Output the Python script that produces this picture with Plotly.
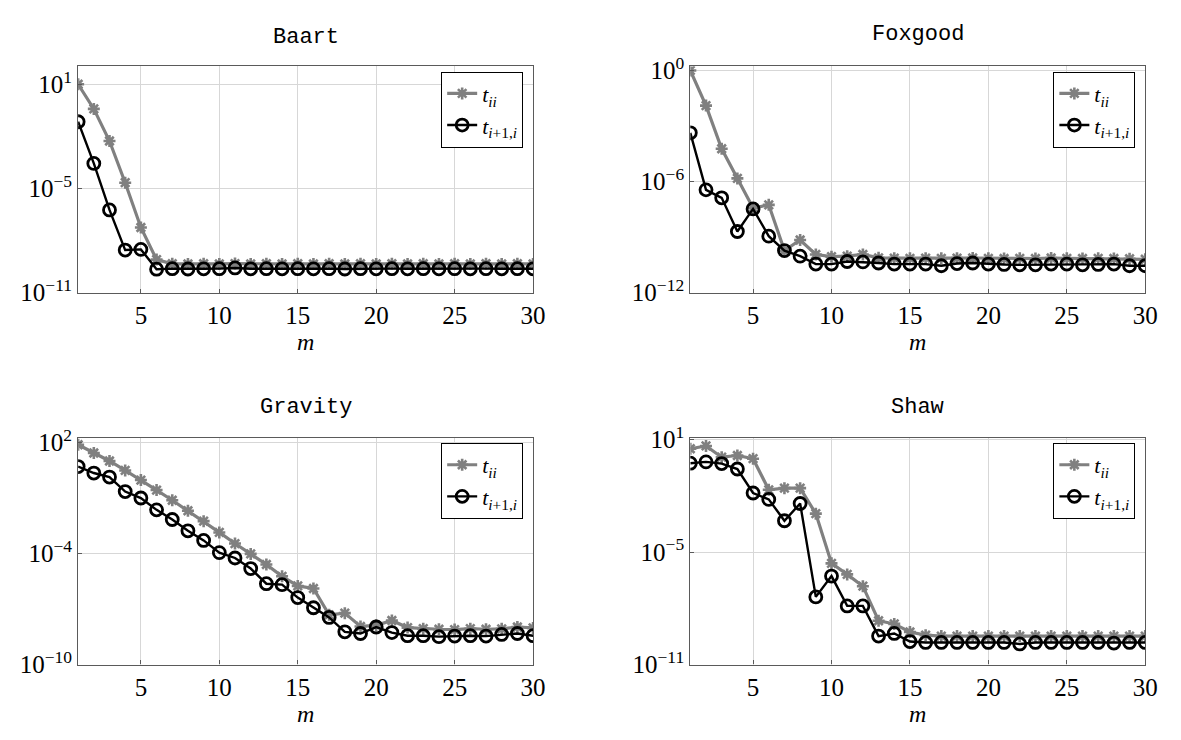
import plotly.graph_objects as go

m = list(range(1, 31))

# log10 values
baart_tii = [1.0, -0.42, -2.27, -4.67, -7.25, -9.10, -9.34, -9.35, -9.34, -9.35, -9.33, -9.35, -9.34, -9.35, -9.34,
             -9.35, -9.34, -9.35, -9.34, -9.35, -9.34, -9.35, -9.34, -9.35, -9.34, -9.35, -9.34, -9.35, -9.34, -9.35]
baart_tip = [-1.16, -3.56, -6.24, -8.55, -8.51, -9.65, -9.62, -9.64, -9.63, -9.62, -9.58, -9.63, -9.62, -9.63, -9.62,
             -9.63, -9.62, -9.64, -9.62, -9.63, -9.62, -9.63, -9.62, -9.63, -9.62, -9.63, -9.62, -9.63, -9.62, -9.63]
fox_tii = [0.0, -1.90, -4.23, -5.83, -7.43, -7.26, -9.73, -9.16, -9.94, -10.06, -10.03, -9.94, -10.12, -10.14, -10.15,
           -10.14, -10.15, -10.14, -10.13, -10.15, -10.16, -10.15, -10.16, -10.13, -10.15, -10.16, -10.15, -10.16, -10.17, -10.20]
fox_tip = [-3.37, -6.45, -6.88, -8.70, -7.48, -8.95, -9.73, -10.03, -10.46, -10.46, -10.32, -10.34, -10.40, -10.46, -10.46,
           -10.46, -10.55, -10.43, -10.40, -10.46, -10.48, -10.50, -10.50, -10.46, -10.46, -10.50, -10.48, -10.46, -10.55, -10.55]
grav_tii = [1.88, 1.43, 1.00, 0.49, -0.03, -0.57, -1.12, -1.69, -2.25, -2.86, -3.46, -4.02, -4.59, -5.23, -5.75,
            -5.89, -7.31, -7.22, -7.94, -7.88, -7.62, -8.00, -8.06, -8.09, -8.11, -8.06, -8.09, -8.07, -7.97, -8.02]
grav_tip = [0.70, 0.35, 0.13, -0.65, -1.00, -1.64, -2.16, -2.77, -3.29, -3.95, -4.24, -4.81, -5.63, -5.68, -6.38,
            -6.93, -7.45, -8.23, -8.32, -7.97, -8.27, -8.44, -8.44, -8.49, -8.46, -8.44, -8.46, -8.37, -8.32, -8.44]
shaw_tii = [0.51, 0.66, 0.06, 0.15, -0.02, -1.68, -1.59, -1.59, -2.95, -5.60, -6.19, -6.82, -8.66, -8.83, -9.26,
            -9.43, -9.48, -9.48, -9.48, -9.48, -9.48, -9.48, -9.48, -9.48, -9.48, -9.48, -9.48, -9.48, -9.48, -9.48]
shaw_tip = [-0.26, -0.19, -0.28, -0.57, -1.85, -2.19, -3.33, -2.41, -7.39, -6.28, -7.87, -7.87, -9.48, -9.34, -9.77,
            -9.82, -9.82, -9.82, -9.82, -9.82, -9.82, -9.90, -9.82, -9.82, -9.82, -9.82, -9.82, -9.85, -9.82, -9.82]

titles = ["Baart", "Foxgood", "Gravity", "Shaw"]
series = [(baart_tii, baart_tip), (fox_tii, fox_tip), (grav_tii, grav_tip), (shaw_tii, shaw_tip)]
yranges = [(-11, 2.03), (-12, 0.22), (-10, 2.26), (-11, 1.1)]
ytickexp = [[1, -5, -11], [0, -6, -12], [2, -4, -10], [1, -5, -11]]
xticks = [5, 10, 15, 20, 25, 30]

W, H = 1181, 740
# plot boxes in pixels: (left, right, top, bottom)
boxes = [(79, 539, 52.5, 288.3), (698, 1158, 52.5, 288.3),
         (79, 539, 439.5, 676), (698, 1158, 439.5, 676)]
title_y = [22, 19, 408, 408]

SERIF = "Liberation Serif"
MONO = "Liberation Mono"
GRAY = "rgb(128,128,128)"

fig = go.Figure()
layout = dict(width=W, height=H, margin=dict(l=0, r=0, t=0, b=0),
              paper_bgcolor="white", plot_bgcolor="white",
              font=dict(family=SERIF, size=22, color="black"), annotations=[])

for i in range(4):
    ax = "" if i == 0 else str(i + 1)
    tii, tip = series[i]
    leg = "legend" if i == 0 else f"legend{i + 1}"
    fig.add_trace(go.Scatter(
        x=m, y=[10 ** v for v in tii], mode="lines+markers",
        name="<i>t</i><sub><i>ii</i></sub>",
        line=dict(color=GRAY, width=3.2),
        marker=dict(symbol="asterisk-open", size=10, color=GRAY, line=dict(color=GRAY, width=2.6)),
        xaxis="x" + ax, yaxis="y" + ax, legend=leg))
    fig.add_trace(go.Scatter(
        x=m, y=[10 ** v for v in tip], mode="lines+markers",
        name="<i>t</i><sub><i>i</i>+1,<i>i</i></sub>",
        line=dict(color="black", width=2.4),
        marker=dict(symbol="circle-open", size=12, color="black", line=dict(color="black", width=2.8)),
        xaxis="x" + ax, yaxis="y" + ax, legend=leg))

    l, r, t, b = boxes[i]
    xd = [l / W, r / W]
    yd = [1 - b / H, 1 - t / H]
    axis_common = dict(showline=True, linecolor="rgb(90,90,90)", linewidth=1.2, mirror=True,
                       showgrid=True, gridcolor="rgb(215,215,215)", gridwidth=1,
                       ticks="inside", ticklen=4, tickcolor="rgb(90,90,90)",
                       zeroline=False, tickfont=dict(family=SERIF, size=25, color="black"))
    layout["xaxis" + ax] = dict(domain=xd, range=[1, 30], tickvals=xticks,
                                anchor="y" + ax, **axis_common)
    ex = ytickexp[i]
    layout["yaxis" + ax] = dict(domain=yd, type="log", range=list(yranges[i]),
                                tickvals=[10 ** e for e in ex],
                                ticktext=[f"10<sup>{str(e).replace('-', '−')}</sup>" for e in ex],
                                anchor="x" + ax, **axis_common)
    layout[leg] = dict(x=(r - 10) / W, y=1 - (t + 5.5) / H, xanchor="right", yanchor="top",
                       xref="paper", yref="paper",
                       bgcolor="white", bordercolor="black", borderwidth=1,
                       font=dict(family=SERIF, size=22, color="black"),
                       tracegroupgap=0, itemwidth=30)
    cx = (l + r) / 2 / W
    layout["annotations"].append(dict(text=titles[i], x=cx, y=1 - title_y[i] / H, xref="paper", yref="paper",
                                      showarrow=False, xanchor="center", yanchor="middle",
                                      font=dict(family=MONO, size=22, color="black")))
    my = 340 if i < 2 else 728
    layout["annotations"].append(dict(text="<i>m</i>", x=cx, y=1 - my / H, xref="paper", yref="paper",
                                      showarrow=False, xanchor="center", yanchor="middle",
                                      font=dict(family=SERIF, size=24, color="black")))

fig.update_layout(**layout)
fig.write_html("out.html",
               post_script="document.body.style.margin='0px';document.body.style.overflow='hidden';")
